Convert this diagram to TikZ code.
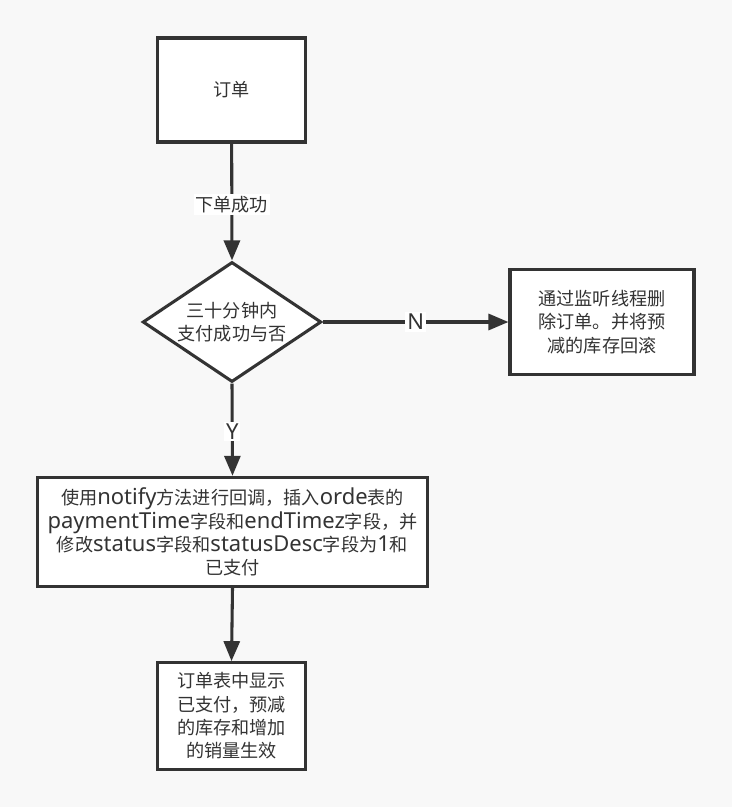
\documentclass[tikz,border=0pt]{standalone}
\usepackage{fontspec}
\setmainfont{Noto Sans CJK SC}
\newfontfamily\latinfont{Noto Sans}
\newcommand{\lt}[1]{{\fontsize{16.5}{17.5}\latinfont #1}}
\usetikzlibrary{arrows.meta,shapes.geometric}
\definecolor{bg}{HTML}{F8F8F8}
\definecolor{ln}{HTML}{333333}
\definecolor{tx}{HTML}{333333}
\begin{document}
\begin{tikzpicture}[x=0.75pt,y=-0.75pt,
  box/.style={draw=ln,line width=2.3pt,fill=white,inner sep=0pt,align=center,text=tx,font=\fontsize{13.6}{17.5}\selectfont},
  arr/.style={draw=ln,line width=2.3pt,-{Triangle[length=15pt,width=12pt]}},
  lab/.style={fill=white,text=tx,inner sep=1.5pt,font=\fontsize{13.6}{17.5}\selectfont}]
\fill[bg] (0,0) rectangle (732,807);
\useasboundingbox (0,0) rectangle (732,807);
\node[box,minimum width=111pt,minimum height=78pt] (order) at (231.5,90) {订单};
\node[box,diamond,aspect=1.5,minimum width=134pt,minimum height=90pt,inner sep=0pt] (dec) at (232,322) {三十分钟内\\支付成功与否};
\node[box,minimum width=138pt,minimum height=79pt] (del) at (602,322) {通过监听线程删\\除订单。并将预\\减的库存回滚};
\node[box,minimum width=292pt,minimum height=82pt] (notify) at (232.5,532) {使用\lt{notify}方法进行回调，插入\lt{orde}表的\\\lt{paymentTime}字段和\lt{endTimez}字段，并\\修改\lt{status}字段和\lt{statusDesc}字段为\lt{1}和\\已支付};
\node[box,minimum width=111pt,minimum height=80pt] (show) at (231.5,716) {订单表中显示\\已支付，预减\\的库存和增加\\的销量生效};
\draw[arr] (order) -- node[lab,pos=0.52] (l1) {下单成功} (dec.north);
\draw[arr] (dec.east) -- node[lab,pos=0.5] (l2) {\lt{N}} (del.west);
\draw[arr] (dec.south) -- node[lab,pos=0.52] (l3) {\lt{Y}} (notify.north);
\draw[arr] (notify.south) -- (show.north);
\end{tikzpicture}
\end{document}
